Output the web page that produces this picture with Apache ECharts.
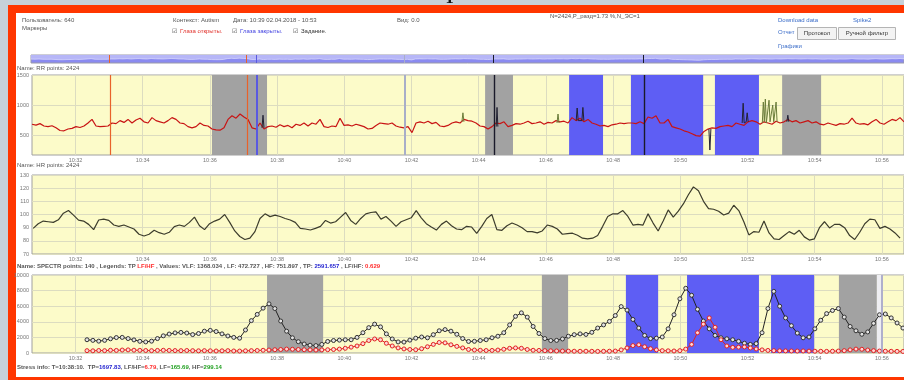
<!DOCTYPE html>
<html><head><meta charset="utf-8">
<script src="https://cdn.jsdelivr.net/npm/echarts@6/dist/echarts.min.js"></script>
<style>html,body{margin:0;padding:0;background:#c6d1d9;overflow:hidden}#c{width:904px;height:380px}</style>
</head><body><div id="c"></div><script>
// ---------- DATA (time = minutes after 10:00) ----------
const timeMin = 30.705, timeMax = 56.657;
const xTickMinutes = [32,34,36,38,40,42,44,46,48,50,52,54,56];
const rrTicks = [500,1000,1500];
const hrTicks = [70,80,90,100,110,120,130];
const specTicks = [0,2000,4000,6000,8000,10000];

const rrStart = 30.705, rrStep = 0.11905;
const rrValues = [
680,665,690,650,640,655,620,575,570,600,
610,640,625,650,700,760,650,640,645,650,
700,690,740,710,760,700,750,780,720,700,
790,740,720,700,740,790,760,700,690,640,
620,640,700,660,650,600,585,580,620,760,
820,780,850,800,760,620,600,700,600,640,
650,630,670,640,660,620,680,660,700,650,
700,680,760,640,625,650,640,780,660,670,
650,680,660,640,600,610,660,700,690,680,
700,650,630,620,640,540,700,720,700,730,
690,710,650,640,660,700,720,700,760,740,
730,700,650,640,600,640,700,690,720,640,
660,690,680,700,730,690,700,720,680,710,
700,740,720,730,700,790,740,780,720,760,
700,680,650,660,640,670,680,700,690,700,
700,690,720,690,800,780,820,700,700,760,
640,620,600,570,550,520,490,480,560,600,
620,610,640,650,660,640,700,680,660,720,
740,720,680,720,700,680,730,700,720,760,
720,740,700,720,740,700,720,680,670,700,
680,660,690,680,700,780,700,680,690,670,
720,760,700,680,720,760,740,790,720];
const rrSpikesGreen = [
[43.50,720],[43.53,870],[43.56,720],[43.57,null],
[46.33,700],[46.36,850],[46.39,700],[46.40,null],
[52.44,700],[52.47,1050],[52.50,720],[52.53,1100],[52.56,700],[52.60,720],[52.64,1080],[52.67,720],[52.72,700],[52.75,1000],[52.78,720],[52.82,730],[52.85,1050],[52.88,720]];
const rrSpikesBlack = [
[37.55,620],[37.58,830],[37.61,620],[37.62,null],
[44.52,640],[44.545,960],[44.57,640],[44.58,null],
[46.90,740],[46.93,950],[46.96,740],[47.07,740],[47.10,960],[47.13,740],[47.14,null],
[50.85,600],[50.88,250],[50.91,600],[50.92,null],
[51.84,700],[51.87,1030],[51.90,700],[51.96,720],[51.99,870],[52.02,720],[52.03,null],
[53.17,720],[53.20,830],[53.23,720]];

const hrStart = 30.74, hrStep = 0.15;
const hrValues = [
89.5,93,95,94.5,94,96,101,103,99.5,95.7,
95,92.5,88.5,95.8,96.5,95.5,92,91,92,90.5,
89,85,83.7,85,88,86.2,85,86.5,90.8,92,
91,94,98,91.5,88.5,93,95,96.5,100,94,
87.5,83.3,81,82,87,97,100.5,98.4,99.5,98.5,
97,95.8,94,89.5,89,88.2,89.5,91,95.5,93.5,
94.5,98,101.5,95.5,92.5,97,100.5,101.5,102,96.5,
98.5,95,91,94.5,96,97.5,103,97.5,93,90.5,
88.2,92.5,95,91.5,89,88.5,91,90.5,85.7,91,
97,100,88.5,88,91.5,93.5,92,90,87,87,
86,87.5,92,91,89,85,85.5,85.8,84.2,82,
81.5,82,84,91,98.5,100.5,100.5,103,98.5,92,
92.5,92,100.5,93.5,87.5,95,103.5,98,102.5,108,
115,121,118,110,104.5,104,102.5,99.6,101,107,
103,94.5,84.5,87,86.5,95,86,81.5,81,84,
87,85,88,83,80.6,81.5,90,94.5,89.8,92.5,
92.5,90,84,81,86.5,93,96.5,96,89.5,91,
89,86,82];

const specStart = 32.342, specStep = 0.1747;
const tpValues = [
1700,1620,1520,1620,1820,1980,2000,1850,1680,1500,
1420,1520,1850,2200,2430,2580,2640,2560,2360,2500,
2800,2900,2750,2450,2180,2000,1900,2950,4150,4950,
5750,6300,5700,4100,2800,1950,1450,1150,1000,950,
1100,1480,1600,1650,1700,1700,2000,2600,3250,3700,
3350,2450,1800,1420,1400,1650,1900,2050,1950,2350,
2850,3000,2800,2400,1850,1480,1500,1600,1700,1950,
2150,2600,3600,4700,5150,4600,3400,2500,1850,1600,
1620,1800,2150,2350,2450,2380,2650,3200,3600,4050,
4800,5950,5500,4300,3200,2250,1850,1900,2050,3100,
4900,6950,8300,7400,5600,4100,3100,2250,1950,1820,
1700,1500,1250,1100,1200,2600,5700,7900,6000,4500,
3500,2550,1950,2050,3100,4200,5050,5450,5700,4600,
3400,2850,2400,2700,3800,4900,5000,4500,3850,3200];
const lfhfValues = [
300,280,320,300,350,330,380,400,360,340,
320,300,330,350,330,310,300,320,300,280,
300,280,260,280,300,260,250,280,300,320,
350,380,420,450,500,480,450,420,400,380,
400,420,450,500,600,750,900,1200,1600,1800,
1700,1250,900,650,520,450,420,550,800,1100,
1350,1300,1050,850,650,450,380,350,320,330,
380,480,600,650,600,450,350,330,300,280,
260,250,240,230,220,230,220,210,220,230,
250,400,650,950,1050,800,550,400,300,280,
260,300,500,1100,2600,3700,4500,3300,1700,900,
720,750,780,650,520,400,330,300,280,270,
260,250,260,240,230,220,210,230,250,300,
400,500,480,380,300,250,230,220,210,200];

const rrGrayBands = [[36.06,37.70],[44.19,45.02],[53.03,54.19]];
const rrBlueBands = [[46.69,47.70],[48.53,50.68],[51.03,52.34]];
const specGrayBands = [[37.70,39.37],[45.88,46.66],[54.72,55.85]];
const specBlueBands = [[48.38,49.34],[50.20,52.34],[52.70,53.98]];
const specLightBands = [[55.85,56.03]];
const eyesOpenMarks = [33.03,37.10];
const eyesClosedMarks = [37.40];
const taskMarks = [44.455,48.92];
const otherMarks = [41.81];
const specMarks = [56.00];

// ---------- BUILD ----------
const seq = (start, step, vals) => vals.map((v,i)=>[+(start+i*step).toFixed(4), v]);
const rrData = seq(rrStart, rrStep, rrValues);
const hrData = seq(hrStart, hrStep, hrValues);
const tpData = seq(specStart, specStep, tpValues);
const lfhfData = seq(specStart, specStep, lfhfValues);

const FONT = '"Liberation Sans", Arial, sans-serif';
const GRAY = '#a2a2a2', BLUE = '#5e5ef4', YEL = '#fcfbc9';

function bandAreas(gray, blue, light){
  const out = [];
  gray.forEach(b=>out.push([{xAxis:b[0], itemStyle:{color:GRAY}},{xAxis:b[1]}]));
  blue.forEach(b=>out.push([{xAxis:b[0], itemStyle:{color:BLUE}},{xAxis:b[1]}]));
  (light||[]).forEach(b=>out.push([{xAxis:b[0], itemStyle:{color:'#eeeef2'}},{xAxis:b[1]}]));
  return out;
}
function eventLines(){
  const out = [];
  eyesOpenMarks.forEach(t=>out.push({xAxis:t, lineStyle:{color:'#e8622a', width:1.2, type:'solid'}}));
  eyesClosedMarks.forEach(t=>out.push({xAxis:t, lineStyle:{color:'#5a5ae0', width:2, type:'solid'}}));
  otherMarks.forEach(t=>out.push({xAxis:t, lineStyle:{color:'#a8aec8', width:2, type:'solid'}}));
  taskMarks.forEach(t=>out.push({xAxis:t, lineStyle:{color:'#1a1a2a', width:1.4, type:'solid'}}));
  return out;
}

const grids = [
  {left:31, right:0, top:55, height:8},
  {left:32, right:0, top:75, height:80},
  {left:32, right:0, top:175, height:79},
  {left:32, right:0, top:275, height:78}
].map((g,i)=>Object.assign(g,{show:true, backgroundColor: i===0?'#8a8af0':YEL, borderColor: i===0?'#9a9aa8':'#a0a0a0', borderWidth:1}));

function xAx(i){
  return {gridIndex:i, type:'value', min:timeMin, max:timeMax,
    axisLine:{show:false}, axisTick:{show:false, customValues:xTickMinutes},
    axisLabel:{show:i>0, customValues:xTickMinutes, formatter:v=>'10:'+String(v).padStart(2,'0'), fontSize:5.5, color:'#777', margin:2, fontFamily:FONT},
    splitLine:{show:i>0, lineStyle:{color:'#dcdcc0', width:1}}};
}
function yAx(i, min, max, ticks){
  return {gridIndex:i, type:'value', min, max, show:i>0,
    axisLine:{show:false}, axisTick:{show:false, customValues:ticks},
    axisLabel:{customValues:ticks, formatter:v=>String(v), fontSize:5.5, color:'#777', margin:3, fontFamily:FONT},
    splitLine:{lineStyle:{color:'#dcdcc0', width:1}}};
}

const T = (text, left, top, color, extra) => Object.assign({text, left, top, padding:0,
  textStyle:{fontSize:6, color:color||'#555', fontFamily:FONT, fontWeight:'normal'}}, extra||{});

const richBase = {fontSize:6, fontFamily:FONT, color:'#555'};
const titles = [
  T('Пользователь: 640', 22, 17),
  T('Маркеры', 22, 25.5),
  T('Контекст: Autism', 173, 17),
  T('Дата: 10:39 02.04.2018 - 10:53', 233, 17),
  T('Вид: 0.0', 397, 17),
  T('N=2424,P_разд=1.73 %,N_ЭС=1', 550, 13),
  T('Download data', 778, 17, '#3a6cc8'),
  T('Spike2', 853, 17, '#3a6cc8'),
  T('Отчет', 778, 29.5, '#3a6cc8'),
  T('Графики', 778, 43.5, '#3a6cc8'),
  T('Глаза открыты.', 180, 28, '#e0302a'),
  T('Глаза закрыты.', 240, 28, '#4040e0'),
  T('Задание.', 301, 28, '#333'),
  T('Name: RR points: 2424', 17, 65),
  T('Name: HR points: 2424', 17, 162.5),
  {left:17, top:263.5, padding:0, text:'{a|Name: SPECTR points: 140 , Legends: TP }{r|LF/HF}{a| , Values: VLF: 1368.034 , LF: 472.727 , HF: 751.897 , TP: }{b|2591.657}{a| , LF/HF: }{r|0.629}',
    textStyle:{rich:{a:richBase, r:Object.assign({},richBase,{color:'#ff2a2a', fontWeight:'bold'}), b:Object.assign({},richBase,{color:'#2626d0', fontWeight:'bold'})}}},
  {left:17, top:364.5, padding:0, text:'{a|Stress info: T=10:38:10.  TP=}{b|1697.83}{a|, LF/HF=}{r|6.79}{a|, LF=}{g|165.69}{a|, HF=}{g|299.14}',
    textStyle:{rich:{a:richBase, r:Object.assign({},richBase,{color:'#ff2a2a', fontWeight:'bold'}), b:Object.assign({},richBase,{color:'#2626d0', fontWeight:'bold'}), g:Object.assign({},richBase,{color:'#22a022', fontWeight:'bold'})}}}
];

const graphic = [
  {type:'rect', shape:{x:0,y:0,width:904,height:380}, style:{fill:'#c6d1d9'}, z:-10},
  {type:'text', x:445, y:-7, style:{text:'1', font:'bold 13px "DejaVu Serif"', fill:'#111'}, z:-9},
  {type:'rect', shape:{x:8,y:5,width:896,height:375}, style:{fill:'#ff3600'}, z:-8},
  {type:'rect', shape:{x:16,y:13,width:888,height:364}, style:{fill:'#ffffff'}, z:-7},
  {type:'rect', shape:{x:797.5,y:27.5,width:39,height:12}, style:{fill:'#f3f3f3', stroke:'#b4b4b4', lineWidth:1}},
  {type:'text', x:817, y:33.5, style:{text:'Протокол', font:'6px '+FONT, fill:'#333', align:'center', verticalAlign:'middle'}},
  {type:'rect', shape:{x:838.5,y:27.5,width:57,height:12}, style:{fill:'#f3f3f3', stroke:'#b4b4b4', lineWidth:1}},
  {type:'text', x:867, y:33.5, style:{text:'Ручной фильтр', font:'6px '+FONT, fill:'#333', align:'center', verticalAlign:'middle'}},
  {type:'text', x:172, y:31.5, style:{text:'☑', font:'6px "DejaVu Sans"', fill:'#444', verticalAlign:'middle'}},
  {type:'text', x:232, y:31.5, style:{text:'☑', font:'6px "DejaVu Sans"', fill:'#444', verticalAlign:'middle'}},
  {type:'text', x:293, y:31.5, style:{text:'☑', font:'6px "DejaVu Sans"', fill:'#444', verticalAlign:'middle'}}
];

const noMarkLine = {symbol:['none','none'], silent:true, label:{show:false}};

const option = {
  animation:false,
  title: titles,
  graphic: graphic,
  grid: grids,
  xAxis: [xAx(0), xAx(1), xAx(2), xAx(3)],
  yAxis: [yAx(0,0,1400,[]), yAx(1,167,1500,rrTicks), yAx(2,70,130,hrTicks), yAx(3,0,10000,specTicks)],
  series: [
    {type:'line', xAxisIndex:0, yAxisIndex:0, data:rrData, showSymbol:false, lineStyle:{color:'#e6e6ff', width:0.6},
     areaStyle:{origin:'end', color:'#b6b6f7', opacity:1}, z:2,
     markLine:Object.assign({data:eventLines().map(d=>Object.assign({},d,{lineStyle:Object.assign({},d.lineStyle,{width:1})}))}, noMarkLine)},
    {type:'line', xAxisIndex:1, yAxisIndex:1, data:[], z:1, markArea:{silent:true, data:bandAreas(rrGrayBands, rrBlueBands)}},
    {type:'line', xAxisIndex:1, yAxisIndex:1, data:rrData, showSymbol:false, lineStyle:{color:'#c81414', width:1.2}, z:3},
    {type:'line', xAxisIndex:1, yAxisIndex:1, data:rrSpikesGreen, showSymbol:false, connectNulls:false, lineStyle:{color:'#6b7d3a', width:1}, z:4},
    {type:'line', xAxisIndex:1, yAxisIndex:1, data:rrSpikesBlack, showSymbol:false, connectNulls:false, lineStyle:{color:'#222233', width:1}, z:4},
    {type:'line', xAxisIndex:1, yAxisIndex:1, data:[], z:5, markLine:Object.assign({data:eventLines()}, noMarkLine)},
    {type:'line', xAxisIndex:2, yAxisIndex:2, data:hrData, showSymbol:false, lineStyle:{color:'#3c3c2c', width:1.2}, z:3},
    {type:'line', xAxisIndex:3, yAxisIndex:3, data:[], z:1, markArea:{silent:true, data:bandAreas(specGrayBands, specBlueBands, specLightBands)},
     markLine:Object.assign({data:specMarks.map(t=>({xAxis:t, lineStyle:{color:'#9a9ac0', width:1.5, type:'solid'}}))}, noMarkLine)},
    {type:'line', xAxisIndex:3, yAxisIndex:3, data:tpData, showSymbol:true, showAllSymbol:true, symbol:'circle', symbolSize:4,
     lineStyle:{color:'#222', width:1}, itemStyle:{color:'#e4e4e4', borderColor:'#333', borderWidth:1}, z:3},
    {type:'line', xAxisIndex:3, yAxisIndex:3, data:lfhfData, showSymbol:true, showAllSymbol:true, symbol:'circle', symbolSize:4,
     lineStyle:{color:'#e02222', width:1}, itemStyle:{color:'#ffd6d6', borderColor:'#e02222', borderWidth:1}, z:3}
  ]
};
const chart = echarts.init(document.getElementById('c'), null, {renderer:'canvas'});
chart.setOption(option);
</script></body></html>
